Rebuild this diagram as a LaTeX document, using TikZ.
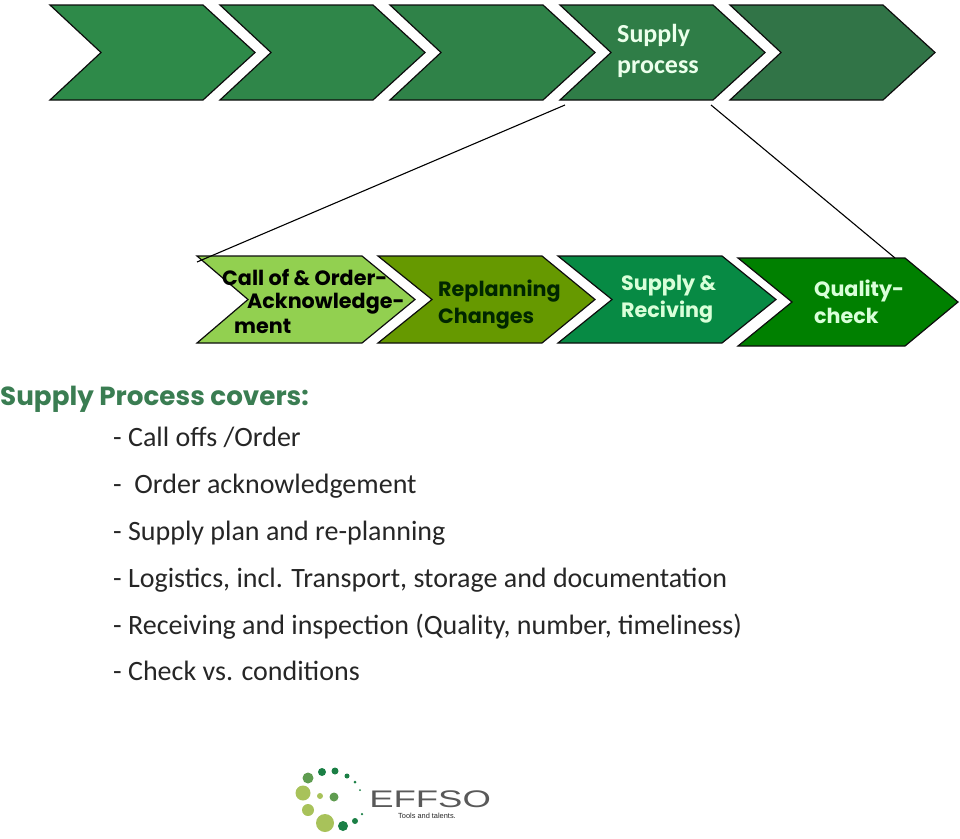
\documentclass[tikz,border=0pt]{standalone}
\usepackage{fontspec}
\setmainfont{Carlito}
\newfontfamily\roundfont{Poppins}
\newfontfamily\logofont{Liberation Sans}
\usetikzlibrary{positioning, calc}

\newcommand{\chevronpath}[6]{% left, shoulder, tip, notch, top, bottom
  (#1,#5) -- (#2,#5) -- (#3,{(#5+#6)/2}) -- (#2,#6) -- (#1,#6) -- (#4,{(#5+#6)/2}) -- cycle}

\tikzset{
  chevron/.style={draw=black!95, line width=1.2pt, line join=miter},
  toplabel/.style={anchor=base west, inner sep=0pt, text=white!92!green, font=\fontsize{26}{26}\selectfont\bfseries},
  lowlabel/.style={anchor=base west, inner sep=0pt, font=\fontsize{20.7}{20.7}\selectfont\roundfont\bfseries},
  listitem/.style={anchor=base west, inner sep=0pt, text=black!85, font=\fontsize{28}{28}\selectfont},
  link/.style={draw=black, line width=1.1pt},
  dot/.style={circle, inner sep=0pt, minimum size=#1}
}
\definecolor{headgreen}{HTML}{3A7D52}
\definecolor{topA}{HTML}{2E8A49}
\definecolor{topB}{HTML}{2F8649}
\definecolor{topC}{HTML}{2F8248}
\definecolor{topD}{HTML}{2F7D47}
\definecolor{topE}{HTML}{317447}
\definecolor{lowA}{HTML}{92D050}
\definecolor{lowB}{HTML}{669900}
\definecolor{lowC}{HTML}{078A44}
\definecolor{lowD}{HTML}{008000}
\definecolor{logolight}{HTML}{A8C25A}
\definecolor{logomid}{HTML}{5F9C50}
\definecolor{logodark}{HTML}{1B7F45}

\begin{document}
\begin{tikzpicture}[x=1pt, y=-1pt]
  \useasboundingbox (0,0) rectangle (960,838);

  \foreach \xa/\col in {50/topA, 220/topB, 390/topC, 560/topD, 730/topE}
    \draw[chevron, fill=\col] \chevronpath{\xa}{\xa+153}{\xa+205}{\xa+51}{5}{100};

  \draw[chevron, fill=lowA] \chevronpath{197}{362}{415}{248}{256}{343};
  \draw[chevron, fill=lowB] \chevronpath{378}{542}{595}{432}{256}{343};
  \draw[chevron, fill=lowC] \chevronpath{558}{722}{776}{612}{256}{343};
  \draw[chevron, fill=lowD] \chevronpath{738}{905}{958}{792}{258}{346};

  \coordinate (supplyleft) at (565,105);
  \coordinate (supplyright) at (711,105);
  \coordinate (callcorner) at (197,262);
  \coordinate (qualitycorner) at (895,258);
  \draw[link] (supplyleft) -- (callcorner);
  \draw[link] (supplyright) -- (qualitycorner);

  \node[toplabel] (supply) at (617,42) {Supply};
  \node[toplabel] (process) at (617,73) {process};

  \node[lowlabel] (call) at (222,285) {Call of \& Order-};
  \node[lowlabel] (ack) at (247,308) {Acknowledge-};
  \node[lowlabel] (ment) at (234,333) {ment};
  \node[lowlabel, text=black!85!green] (replan) at (438,296) {Replanning};
  \node[lowlabel, text=black!85!green] (changes) at (438,323) {Changes};
  \node[lowlabel, text=white!85!green] (supplyand) at (621,290) {Supply \&};
  \node[lowlabel, text=white!85!green] (reciving) at (621,317) {Reciving};
  \node[lowlabel, text=white!85!green] (quality) at (814,296) {Quality-};
  \node[lowlabel, text=white!85!green] (check) at (814,323) {check};

  \node[anchor=base west, inner sep=0pt, text=headgreen, font=\fontsize{26.2}{26.2}\selectfont\roundfont\bfseries] (covers) at (0,405) {Supply Process covers:};
  \node[listitem] (item1) at (113,446) {- Call offs /Order};
  \node[listitem] (item2) at (113,493) {-\ \ Order acknowledgement};
  \node[listitem] (item3) at (113,540) {- Supply plan and re-planning};
  \node[listitem] (item4) at (113,587) {- Logistics, incl. Transport, storage and documentation};
  \node[listitem] (item5) at (113,634) {- Receiving and inspection (Quality, number, timeliness)};
  \node[listitem] (item6) at (113,680) {- Check vs. conditions};

  \foreach \px/\py/\sz/\col in {308/778/11/logomid, 322/772/8/logodark, 335/771/7/logodark, 347/776/5/logodark,
      355/782/3/logodark, 360/790/2/logodark, 303/793/15/logolight, 320/796/6/logolight, 334/797/9/logomid,
      308/810/12/logolight, 325/823/18/logolight, 343/826/10/logodark, 355/821/6/logodark, 362/814/2.5/logodark}
    \node[dot=\sz pt, fill=\col] at (\px,\py) {};
  \node[anchor=base west, inner sep=0pt, text=black!65, font=\fontsize{24}{24}\selectfont\logofont, xscale=1.52] (effso) at (369,807) {EFFSO};
  \node[inner sep=0pt, text=black!85, font=\fontsize{7.4}{7.4}\selectfont\logofont] (talents) at (427,816) {Tools and talents.};
\end{tikzpicture}
\end{document}
